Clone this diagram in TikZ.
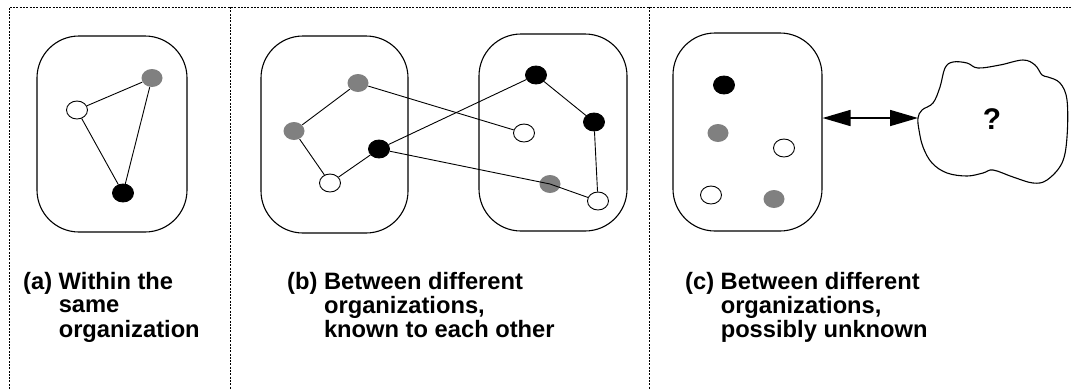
\documentclass[tikz,border=0pt]{standalone}
\usepackage{fontspec}
\setmainfont{Liberation Sans}
\usetikzlibrary{shapes.geometric,arrows.meta}
\definecolor{dotgray}{RGB}{128,128,128}
\begin{document}
\begin{tikzpicture}[x=1bp,y=-1bp,
  org/.style={draw, line width=1.1bp, rounded corners=42bp, inner sep=0pt},
  pt/.style={ellipse, minimum width=21bp, minimum height=18bp, inner sep=0pt, line width=0.9bp},
  wpt/.style={pt, draw=black, fill=white},
  bpt/.style={pt, draw=black, fill=black},
  gpt/.style={pt, fill=dotgray},
  link/.style={line width=0.9bp},
  frame/.style={line width=0.9bp, dash pattern=on 2bp off 1.3bp},
  lbl/.style={anchor=base west, inner sep=0pt, font=\fontsize{23.8}{24}\selectfont\bfseries},
  cloudline/.style={line width=1.1bp}
]
\useasboundingbox (0,0) rectangle (1071,389);
% frame
\draw[frame] (9,389) -- (9,7) -- (1071,7);
\draw[frame] (230,7) -- (230,389);
\draw[frame] (649,7) -- (649,389);

% boxes
\node[org, minimum width=150bp, minimum height=196bp] (boxa) at (112,134) {};
\node[org, minimum width=147bp, minimum height=197bp] (boxb1) at (334.5,134.5) {};
\node[org, minimum width=148bp, minimum height=197bp] (boxb2) at (553,132.5) {};
\node[org, minimum width=149bp, minimum height=198bp] (boxc) at (747.5,132) {};

% (a)
\node[gpt] (ga) at (152,78) {};
\node[wpt] (wa) at (77,110) {};
\node[bpt] (ka) at (123,193) {};
\draw[link] (wa) -- (ga);
\draw[link] (ga) -- (ka);
\draw[link] (ka) -- (wa);

% (b)
\node[gpt] (gb1) at (358,83) {};
\node[gpt] (gb2) at (294,131) {};
\node[wpt] (wb1) at (330,183) {};
\node[bpt] (kb1) at (379,149) {};
\node[wpt] (wb2) at (524,133) {};
\node[bpt] (kb2) at (536,75) {};
\node[bpt] (kb3) at (594,122) {};
\node[gpt] (gb3) at (550,184) {};
\node[wpt] (wb3) at (598,201) {};
\draw[link] (gb1) -- (gb2);
\draw[link] (gb2) -- (wb1);
\draw[link] (wb1) -- (kb1);
\draw[link] (kb1) -- (kb2);
\draw[link] (kb2) -- (kb3);
\draw[link] (kb3) -- (wb3);
\draw[link] (gb1) -- (wb2);
\draw[link] (kb1) -- (gb3.center) -- (wb3);

% (c)
\node[bpt] (kc1) at (724,85) {};
\node[gpt] (gc1) at (718,133) {};
\node[wpt] (wc1) at (784,148) {};
\node[wpt] (wc2) at (711,195) {};
\node[gpt] (gc2) at (774,199) {};

% cloud
\draw[cloudline] plot[smooth cycle, tension=0.6] coordinates {
 (918,118) (922,110) (933,103) (940,87) (945,68) (953,62) (967,63) (978,68)
 (1000,65) (1023,60) (1035,65) (1042,75) (1048,77) (1060,83) (1067,100)
 (1067,137) (1062,163) (1047,180) (1033,183) (1013,177) (993,170) (983,173)
 (967,176) (947,173) (932,163) (923,147) (919,130)};
\coordinate (cloudin) at (918,118);
\node[font=\fontsize{30}{32}\selectfont\bfseries] (qm) at (992,119) {?};

% arrow
\draw[line width=1.6bp, {Triangle[length=28bp,width=16bp]}-{Triangle[length=28bp,width=16bp]}]
  (boxc.east |- cloudin) -- (cloudin);

% labels
\node[lbl] (la) at (23,289) {(a) \begin{tabular}[t]{@{}l@{}}Within the\\same\\organization\end{tabular}};
\node[lbl] (lb) at (287,289) {(b) \begin{tabular}[t]{@{}l@{}}Between different\\organizations,\\known to each other\end{tabular}};
\node[lbl] (lc) at (685,289) {(c) \begin{tabular}[t]{@{}l@{}}Between different\\organizations,\\possibly unknown\end{tabular}};
\end{tikzpicture}
\end{document}
